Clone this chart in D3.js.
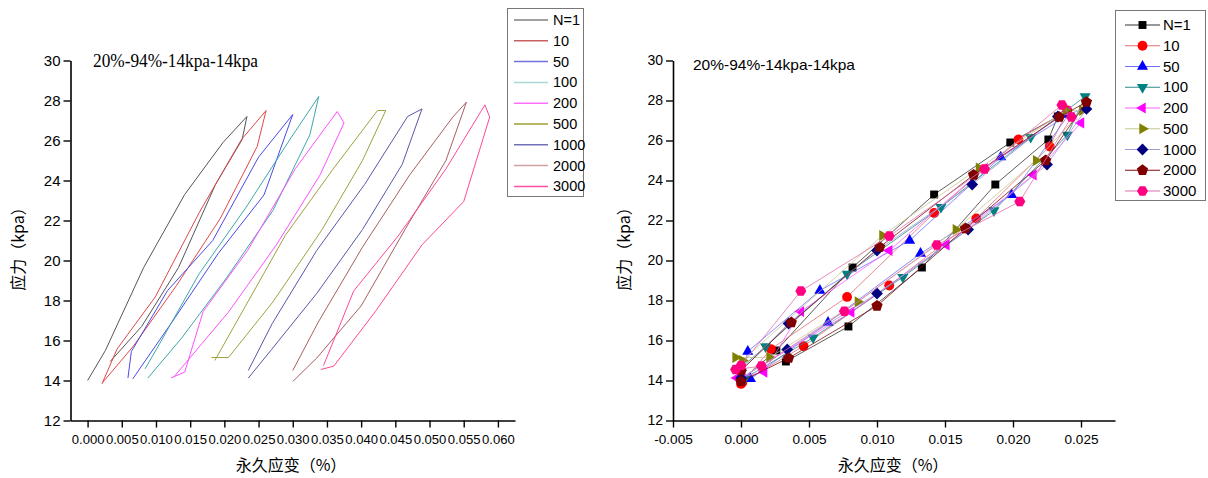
<!DOCTYPE html>
<html><head><meta charset="utf-8">
<script src="https://cdn.jsdelivr.net/npm/d3@7"></script>
<style>body{margin:0;background:#fff}svg{display:block}</style>
</head><body>
<svg id="c" width="1208" height="478"></svg>
<script>
// ---------- DATA ----------
const seriesNames = ["N=1","10","50","100","200","500","1000","2000","3000"];
// strain at the start of each loop (left panel offset, %)
const startStrain = [0, 0.0021, 0.0059, 0.0085, 0.0125, 0.0185, 0.0235, 0.0300, 0.0345];
// relative permanent strain (%) and stress (kpa) of each loop
const strainN1   = [0, 0.0026, 0.0082, 0.0142, 0.0198, 0.0233, 0.0226, 0.0187, 0.0133, 0.0079, 0.0033];
const stressN1   = [14.0, 15.5, 19.65, 23.3, 25.9, 27.2, 26.05, 23.8, 19.65, 16.7, 14.95];
const strainN10  = [0, 0.0022, 0.0078, 0.0142, 0.0204, 0.0240, 0.0227, 0.0173, 0.0109, 0.0046, 0.0001];
const stressN10  = [13.83, 15.57, 18.18, 22.38, 26.05, 27.5, 25.7, 22.1, 18.75, 15.72, 13.9];
const strainN50  = [0, 0.0005, 0.0058, 0.0124, 0.0191, 0.0241, 0.0199, 0.0132, 0.0064, 0.0007];
const stressN50  = [14.12, 15.45, 18.5, 21.0, 25.17, 27.3, 23.28, 20.35, 16.9, 14.08];
const strainN100 = [-0.0001, 0.0018, 0.0078, 0.0147, 0.0213, 0.0253, 0.0240, 0.0186, 0.0119, 0.0053, 0.0003];
const stressN100 = [14.58, 15.7, 19.33, 22.67, 26.17, 28.2, 26.28, 22.5, 19.17, 16.14, 14.12];
const strainN200 = [-0.0003, 0.0017, 0.0044, 0.0109, 0.0179, 0.0240, 0.0250, 0.0215, 0.0151, 0.0081, 0.0001];
const stressN200 = [14.13, 14.42, 17.45, 20.5, 24.6, 27.45, 26.88, 24.28, 20.78, 17.42, 14.17];
const strainN500 = [-0.0004, 0.0021, 0.0086, 0.0158, 0.0217, 0.0251, 0.0239, 0.0175, 0.0104, 0.0001];
const stressN500 = [15.15, 15.15, 17.93, 21.55, 25.0, 27.5, 27.5, 24.62, 21.25, 15.0];
const strainN1000 = [0, 0.0035, 0.0100, 0.0170, 0.0233, 0.0254, 0.0225, 0.0167, 0.0100, 0.0034, 0];
const stressN1000 = [14.5, 16.85, 20.5, 23.8, 27.2, 27.58, 24.8, 21.55, 18.35, 15.55, 14.12];
const strainN2000 = [0, 0.0037, 0.0102, 0.0171, 0.0234, 0.0254, 0.0224, 0.0165, 0.0100, 0.0035, 0];
const stressN2000 = [14.5, 16.9, 20.67, 24.28, 27.17, 27.92, 25.0, 21.6, 17.73, 15.12, 13.95];
const strainN3000 = [0, 0.0044, 0.0109, 0.0179, 0.0236, 0.0243, 0.0205, 0.0144, 0.0076, 0.0015, -0.0004];
const stressN3000 = [14.75, 18.47, 21.22, 24.58, 27.78, 27.17, 22.95, 20.78, 17.46, 14.72, 14.55];

const leftXTicks  = [0,0.005,0.010,0.015,0.020,0.025,0.030,0.035,0.040,0.045,0.050,0.055,0.060];
const rightXTicks = [-0.005,0,0.005,0.010,0.015,0.020,0.025];
const yTicks = [12,14,16,18,20,22,24,26,28,30];
const titleText = "20%-94%-14kpa-14kpa";
const yTitle = "应力（kpa）";
const xTitle = "永久应变（%）";

// ---------- STYLE ----------
const strains = [strainN1,strainN10,strainN50,strainN100,strainN200,strainN500,strainN1000,strainN2000,strainN3000];
const stresses = [stressN1,stressN10,stressN50,stressN100,stressN200,stressN500,stressN1000,stressN2000,stressN3000];
const leftColors  = ["#555555","#e04848","#4a4ae8","#40a8a8","#ff50ff","#a0a040","#5858a8","#a86060","#ff4898"];
const leftLegendColors = ["#808080","#c86060","#7070e0","#a8d8d8","#ff70ff","#a0a030","#7070b8","#d0a0a0","#ff50a0"];
const markerColors = ["#000000","#ff0000","#0000ff","#008080","#ff00ff","#808000","#000080","#800000","#ff0080"];
const rightLineColors = ["#333333","#e07070","#7070ff","#2a8a8a","#ff60ff","#c8c890","#a0a0d8","#7a1010","#e070b0"];

const svg = d3.select("#c");
const FONT = "'Liberation Sans', Arial, sans-serif";
const CJK = "'Noto Sans CJK SC', 'Noto Sans', sans-serif";

function poly(n, r, rot) {
  const p = [];
  for (let i = 0; i < n; i++) {
    const a = (rot + i * 360 / n) * Math.PI / 180;
    p.push([r * Math.cos(a), r * Math.sin(a)]);
  }
  return "M" + p.map(q => q[0].toFixed(2) + "," + q[1].toFixed(2)).join("L") + "Z";
}
const markerPaths = [
  poly(4, 5.6, 45),      // square
  d3.symbol(d3.symbolCircle, 76)(), // circle
  poly(3, 6.4, -90),     // up triangle
  poly(3, 6.4, 90),      // down triangle
  poly(3, 6.4, 180),     // left triangle
  poly(3, 6.4, 0),       // right triangle
  poly(4, 5.9, 0),       // diamond
  poly(5, 5.9, -90),     // pentagon
  poly(6, 5.5, 0)        // hexagon
];

const yScale = d3.scaleLinear().domain([12, 30]).range([420.5, 60.5]);
const fmt = d => d3.format(".3f")(d).replace("−", "-");

function drawAxes(x, xLeft, xMajor, xMinor, xFontSize, yFontSize) {
  const g = svg.append("g");
  const xa = g.append("g").attr("transform", "translate(0,420.5)");
  xa.call(d3.axisBottom(x).tickValues(xMinor).tickSize(4).tickSizeOuter(0).tickFormat(""));
  xa.call(d3.axisBottom(x).tickValues(xMajor).tickSize(7).tickSizeOuter(0).tickFormat(fmt));
  xa.selectAll("text").attr("font-family", FONT).attr("font-size", xFontSize).attr("fill", "#000").attr("dy", "0").attr("y", 23);
  const ya = g.append("g").attr("transform", `translate(${xLeft},0)`);
  ya.call(d3.axisLeft(yScale).tickValues(d3.range(13, 30, 2)).tickSize(4).tickSizeOuter(0).tickFormat(""));
  ya.call(d3.axisLeft(yScale).tickValues(yTicks).tickSize(7).tickSizeOuter(0).tickFormat(d3.format("d")));
  ya.selectAll("text").attr("font-family", FONT).attr("font-size", yFontSize).attr("fill", "#000").attr("x", -10);
  g.selectAll(".domain").attr("stroke", "#000").attr("stroke-width", 1.6);
  g.selectAll(".tick line").attr("stroke", "#000").attr("stroke-width", 1.4);
}

// ---------- LEFT PANEL ----------
const xL = d3.scaleLinear().domain([-0.0025, 0.0625]).range([70.5, 515]);
drawAxes(xL, 70.5, leftXTicks, d3.range(0, 13).map(i => -0.0025 + i * 0.005).concat([0.0625]), 13.1, 15);

seriesNames.forEach((name, i) => {
  const pts = strains[i].map((s, k) => [startStrain[i] + s, stresses[i][k]]);
  svg.append("path").datum(pts)
    .attr("d", d3.line().x(d => xL(d[0])).y(d => yScale(d[1])))
    .attr("fill", "none").attr("stroke", leftColors[i]).attr("stroke-width", 1);
});

svg.append("text").attr("x", 93).attr("y", 67).attr("font-family", "'Liberation Serif', 'Times New Roman', serif")
  .attr("font-size", 18).attr("textLength", 165).attr("lengthAdjust", "spacingAndGlyphs").text(titleText);

svg.append("text").attr("transform", "translate(24,245) rotate(-90)").attr("text-anchor", "middle")
  .attr("font-family", CJK).attr("font-size", 16).text(yTitle);
svg.append("text").attr("x", 291).attr("y", 471).attr("text-anchor", "middle")
  .attr("font-family", CJK).attr("font-size", 16).text(xTitle);

const lgL = svg.append("g");
lgL.append("rect").attr("x", 507.5).attr("y", 8.5).attr("width", 76).attr("height", 188)
  .attr("fill", "#fff").attr("stroke", "#777").attr("stroke-width", 1);
seriesNames.forEach((name, i) => {
  const yy = 20 + i * 20.8;
  lgL.append("line").attr("x1", 514).attr("x2", 548).attr("y1", yy).attr("y2", yy)
    .attr("stroke", leftLegendColors[i]).attr("stroke-width", 1.5);
  lgL.append("text").attr("x", 553).attr("y", yy + 5).attr("font-family", FONT).attr("font-size", 14.5).text(name);
});

// ---------- RIGHT PANEL ----------
const xR = d3.scaleLinear().domain([-0.005, 0.0275]).range([673, 1115]);
drawAxes(xR, 673, rightXTicks, d3.range(0, 7).map(i => -0.0025 + i * 0.005), 13.6, 14);

seriesNames.forEach((name, i) => {
  const pts = strains[i].map((s, k) => [s, stresses[i][k]]);
  const g = svg.append("g");
  g.append("path").datum(pts)
    .attr("d", d3.line().x(d => xR(d[0])).y(d => yScale(d[1])))
    .attr("fill", "none").attr("stroke", rightLineColors[i]).attr("stroke-width", 0.8);
  g.selectAll("path.m").data(pts).enter().append("path").attr("class", "m")
    .attr("d", markerPaths[i])
    .attr("transform", d => `translate(${xR(d[0])},${yScale(d[1])})`)
    .attr("fill", markerColors[i]);
});

svg.append("text").attr("x", 693).attr("y", 70).attr("font-family", FONT)
  .attr("font-size", 15).attr("textLength", 162).attr("lengthAdjust", "spacingAndGlyphs").text(titleText);

svg.append("text").attr("transform", "translate(630,245) rotate(-90)").attr("text-anchor", "middle")
  .attr("font-family", CJK).attr("font-size", 16).text(yTitle);
svg.append("text").attr("x", 893).attr("y", 471).attr("text-anchor", "middle")
  .attr("font-family", CJK).attr("font-size", 16).text(xTitle);

const lgR = svg.append("g");
lgR.append("rect").attr("x", 1115.5).attr("y", 10.5).attr("width", 90).attr("height", 190)
  .attr("fill", "#fff").attr("stroke", "#777").attr("stroke-width", 1);
seriesNames.forEach((name, i) => {
  const yy = 25 + i * 20.75;
  lgR.append("line").attr("x1", 1125).attr("x2", 1160).attr("y1", yy).attr("y2", yy)
    .attr("stroke", rightLineColors[i]).attr("stroke-width", 1.2);
  lgR.append("path").attr("d", markerPaths[i]).attr("transform", `translate(1142.5,${yy})`).attr("fill", markerColors[i]);
  lgR.append("text").attr("x", 1163).attr("y", yy + 5).attr("font-family", FONT).attr("font-size", 15).text(name);
});
</script>
</body></html>
